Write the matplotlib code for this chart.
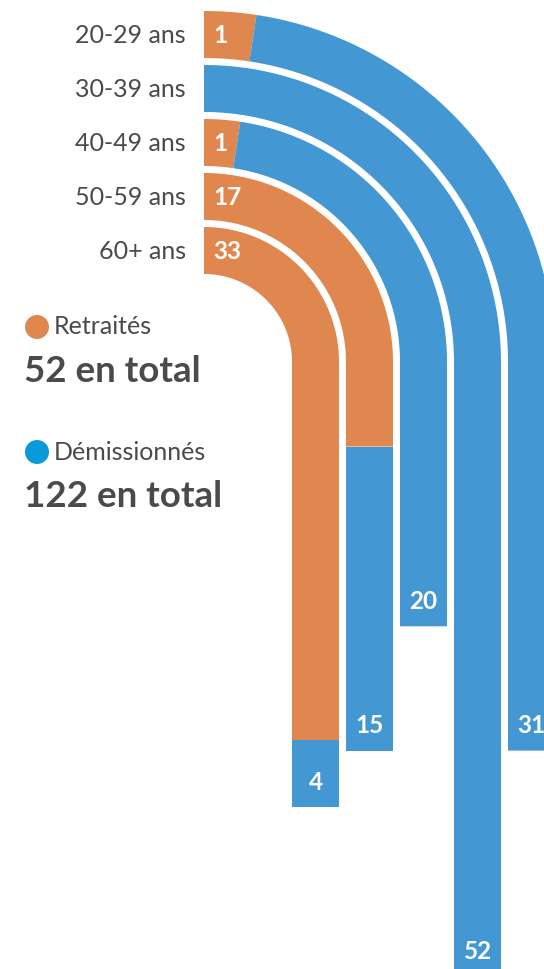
import numpy as np
import matplotlib
matplotlib.use("Agg")
import matplotlib.pyplot as plt
from matplotlib.patches import Polygon, Circle

# data
groups = ["20-29 ans", "30-39 ans", "40-49 ans", "50-59 ans", "60+ ans"]
retraites = [1, 0, 1, 17, 33]
demissionnes = [31, 52, 20, 15, 4]
total_retraites = sum(retraites)
total_demissionnes = sum(demissionnes)

ORANGE = "#e0874f"
BLUE = "#4398d3"
BLUE_DOT = "#0b9ad8"
GREY = "#4a4a4a"

plt.rcParams["font.family"] = ["Lato", "DejaVu Sans"]

W, H = 544, 969
fig = plt.figure(figsize=(W / 100, H / 100), dpi=100)
ax = fig.add_axes([0, 0, 1, 1])
ax.set_xlim(0, W)
ax.set_ylim(H, 0)
ax.axis("off")

# layout of the bent bars (pixels)
cx, cy = 204, 362        # centre of the bends
r_min = 88               # inner radius of the innermost bar
pitch = 54
thick = 47
min_angle = 0.15         # smallest visible segment, radians of the bend


def y_scale(v):
    # value -> end of bar on the vertical part
    return 389 + 11.3 * v


def point(s, r, rc, La):
    if s <= La:
        th = s / rc
        return cx + r * np.sin(th), cy - r * np.cos(th)
    return cx + r, cy + (s - La)


def segment(s0, s1, r_in, rc, La, color):
    ss = np.linspace(s0, s1, 200)
    outer = [point(s, r_in + thick, rc, La) for s in ss]
    inner = [point(s, r_in, rc, La) for s in ss[::-1]]
    ax.add_patch(Polygon(outer + inner, closed=True, fc=color, ec="none"))


n = len(groups)
for i in range(n):
    r_in = r_min + (n - 1 - i) * pitch
    rc = r_in + thick / 2
    La = np.pi / 2 * rc
    total = retraites[i] + demissionnes[i]
    y_end = y_scale(total)
    S = La + (y_end - cy)
    split = S * retraites[i] / total
    if retraites[i] > 0:
        split = max(split, min_angle * rc)
        segment(0, split, r_in, rc, La, ORANGE)
        ax.text(cx + 9, cy - rc + 1, str(retraites[i]), color="white",
                fontsize=17.5, fontweight="bold", ha="left", va="center")
    segment(split, S, r_in, rc, La, BLUE)
    ax.text(cx + rc, y_end - 25, str(demissionnes[i]), color="white",
            fontsize=17.5, fontweight="bold", ha="center", va="center")
    ax.text(186, cy - rc + 1, groups[i], color=GREY, fontsize=18,
            ha="right", va="center")

# legend
ax.add_patch(Circle((37, 327), 12, fc=ORANGE, ec="none"))
ax.text(54, 327, "Retraités", color=GREY, fontsize=18, ha="left", va="center")
ax.text(24, 371, f"{total_retraites} en total", color=GREY, fontsize=26.5,
        fontweight="bold", ha="left", va="center")

ax.add_patch(Circle((37, 452), 12, fc=BLUE_DOT, ec="none"))
ax.text(54, 452, "Démissionnés", color=GREY, fontsize=18, ha="left", va="center")
ax.text(24, 496, f"{total_demissionnes} en total", color=GREY, fontsize=26.5,
        fontweight="bold", ha="left", va="center")

fig.savefig("out.png", dpi=100)
